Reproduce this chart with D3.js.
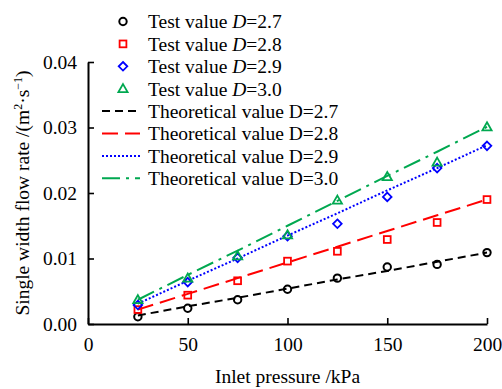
<!DOCTYPE html>
<html>
<head>
<meta charset="utf-8">
<script src="https://cdn.jsdelivr.net/npm/d3@7"></script>
<style>
  body { margin: 0; background: #fff; }
  svg text { font-family: "Liberation Serif", serif; }
</style>
</head>
<body>
<div id="chart"></div>
<script>
// inlet pressure (kPa)
var pressures = [25, 50, 75, 100, 125, 150, 175, 200];

// test values, one per fractal dimension
var test27 = [0.0011, 0.0024, 0.0037, 0.0053, 0.0070, 0.0087, 0.0091, 0.0109];
var test28 = [0.0022, 0.0044, 0.0066, 0.0096, 0.0111, 0.0129, 0.0155, 0.0190];
var test29 = [0.0029, 0.0064, 0.0101, 0.0134, 0.0153, 0.0194, 0.0238, 0.0272];
var test30 = [0.0037, 0.0070, 0.0104, 0.0136, 0.0189, 0.0225, 0.0247, 0.0301];

// theoretical values
var theo27 = [0.0013, 0.0027, 0.0040, 0.0054, 0.0068, 0.0081, 0.0095, 0.0109];
var theo28 = [0.0022, 0.0046, 0.0070, 0.0094, 0.0118, 0.0142, 0.0166, 0.0190];
var theo29 = [0.0031, 0.0066, 0.0100, 0.0135, 0.0169, 0.0204, 0.0238, 0.0273];
var theo30 = [0.0037, 0.0075, 0.0112, 0.0150, 0.0188, 0.0226, 0.0263, 0.0301];

var dims = ["2.7", "2.8", "2.9", "3.0"];
var xTicks = [0, 50, 100, 150, 200];
var yTicks = [0, 0.01, 0.02, 0.03, 0.04];

var width = 502, height = 389;
var colors = ["#000000", "#ff0000", "#0000ff", "#00a850"];
var dashes = ["8,5", "16,7", "2,2", "18,6,3,6"];
var shapes = ["circle", "square", "diamond", "triangle"];
var serif = "'Liberation Serif', serif";

var svg = d3.select("#chart").append("svg")
    .attr("width", width)
    .attr("height", height);

var x = d3.scaleLinear().domain([0, 200]).range([88, 487]);
var y = d3.scaleLinear().domain([0, 0.04]).range([324, 62]);

var fontSize = "19.5px";

// axes
var xAxis = svg.append("g")
    .attr("transform", "translate(0," + y(0) + ")")
    .call(d3.axisBottom(x).tickValues(xTicks).tickSizeInner(-6).tickSizeOuter(0).tickPadding(13));
var yAxis = svg.append("g")
    .attr("transform", "translate(" + x(0) + ",0)")
    .call(d3.axisLeft(y).tickValues(yTicks).tickFormat(d3.format(".2f")).tickSizeInner(-6).tickSizeOuter(0).tickPadding(11));

[xAxis, yAxis].forEach(function(a) {
    a.attr("font-family", serif);
    a.select(".domain").attr("stroke", "#000").attr("stroke-width", 2);
    a.selectAll(".tick line").attr("stroke", "#000").attr("stroke-width", 1.6);
    a.selectAll(".tick text")
        .attr("fill", "#000")
        .style("font-size", fontSize)
        .style("font-family", serif);
});

// axis titles
svg.append("text")
    .attr("x", (x(0) + x(200)) / 2)
    .attr("y", 383)
    .attr("text-anchor", "middle")
    .style("font-size", fontSize)
    .style("font-family", serif)
    .text("Inlet pressure /kPa");

var yTitle = svg.append("text")
    .attr("transform", "translate(29," + (y(0) + y(0.04)) / 2 + ") rotate(-90)")
    .attr("text-anchor", "middle")
    .style("font-size", fontSize)
    .style("font-family", serif);
yTitle.append("tspan").text("Single width flow rate /(m");
yTitle.append("tspan").attr("dy", -7).style("font-size", "12px").text("2");
yTitle.append("tspan").attr("dy", 7).text("\u00b7s");
yTitle.append("tspan").attr("dy", -7).style("font-size", "12px").text("\u22121");
yTitle.append("tspan").attr("dy", 7).text(")");

// marker drawing
function drawMarker(g, shape, color, cx, cy) {
    if (shape === "circle") {
        g.append("circle").attr("cx", cx).attr("cy", cy).attr("r", 3.7)
            .attr("fill", "none").attr("stroke", color).attr("stroke-width", 2);
    } else if (shape === "square") {
        g.append("rect").attr("x", cx - 3.4).attr("y", cy - 3.4).attr("width", 6.8).attr("height", 6.8)
            .attr("fill", "none").attr("stroke", color).attr("stroke-width", 1.8);
    } else if (shape === "diamond") {
        var s = 4.3;
        g.append("path").attr("d", "M" + cx + "," + (cy - s) + "L" + (cx + s) + "," + cy + "L" + cx + "," + (cy + s) + "L" + (cx - s) + "," + cy + "Z")
            .attr("fill", "none").attr("stroke", color).attr("stroke-width", 1.8);
    } else {
        var h = 4.6;
        g.append("path").attr("d", "M" + cx + "," + (cy - h) + "L" + (cx + h) + "," + (cy + h * 0.75) + "L" + (cx - h) + "," + (cy + h * 0.75) + "Z")
            .attr("fill", "none").attr("stroke", color).attr("stroke-width", 1.8);
    }
}

var tests = [test27, test28, test29, test30];
var theos = [theo27, theo28, theo29, theo30];

var line = d3.line()
    .x(function(d) { return x(d[0]); })
    .y(function(d) { return y(d[1]); });

var plot = svg.append("g");

for (var i = 0; i < 4; i++) {
    plot.append("path")
        .datum(d3.zip(pressures, theos[i]))
        .attr("d", line)
        .attr("fill", "none")
        .attr("stroke", colors[i])
        .attr("stroke-width", 2)
        .attr("stroke-dasharray", dashes[i]);
}
for (var i = 0; i < 4; i++) {
    var g = plot.append("g");
    for (var j = 0; j < pressures.length; j++) {
        drawMarker(g, shapes[i], colors[i], x(pressures[j]), y(tests[i][j]));
    }
}

// legend
var legend = svg.append("g");
var rowY = function(k) { return 21.5 + k * 22.4; };
for (var i = 0; i < 4; i++) {
    drawMarker(legend, shapes[i], colors[i], 123, rowY(i));
    var t = legend.append("text")
        .attr("x", 148).attr("y", rowY(i)).attr("dy", "0.35em")
        .style("font-size", fontSize)
        .style("font-family", serif);
    t.append("tspan").text("Test value ");
    t.append("tspan").style("font-style", "italic").text("D");
    t.append("tspan").text("=" + dims[i]);
}
for (var i = 0; i < 4; i++) {
    var ly = rowY(i + 4);
    legend.append("line")
        .attr("x1", 102).attr("x2", 140).attr("y1", ly).attr("y2", ly)
        .attr("stroke", colors[i]).attr("stroke-width", 2)
        .attr("stroke-dasharray", dashes[i]);
    legend.append("text")
        .attr("x", 148).attr("y", ly).attr("dy", "0.35em")
        .style("font-size", fontSize)
        .style("font-family", serif)
        .text("Theoretical value D=" + dims[i]);
}
</script>
</body>
</html>
